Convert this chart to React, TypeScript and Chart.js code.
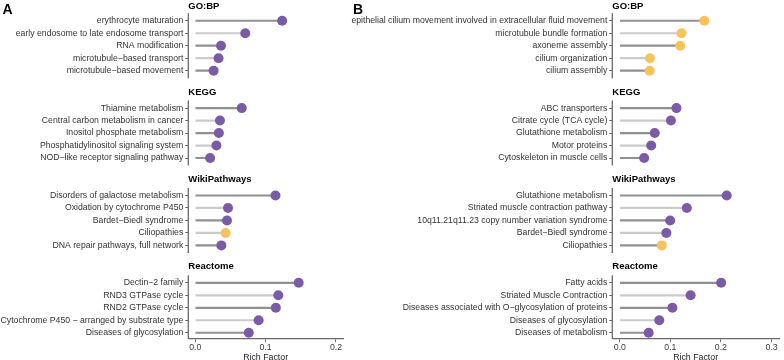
import { useEffect, useRef } from "react";
import { Chart, registerables } from "chart.js";

Chart.register(...registerables);

// ---- Panel A: enrichment terms and rich factors ----
const facetTitles = ["GO:BP", "KEGG", "WikiPathways", "Reactome"];

const goTermsA = [
  "erythrocyte maturation",
  "early endosome to late endosome transport",
  "RNA modification",
  "microtubule−based transport",
  "microtubule−based movement",
];
const goRichA = [0.1235, 0.071, 0.0365, 0.033, 0.026];

const keggTermsA = [
  "Thiamine metabolism",
  "Central carbon metabolism in cancer",
  "Inositol phosphate metabolism",
  "Phosphatidylinositol signaling system",
  "NOD−like receptor signaling pathway",
];
const keggRichA = [0.066, 0.035, 0.0335, 0.03, 0.021];

const wikiTermsA = [
  "Disorders of galactose metabolism",
  "Oxidation by cytochrome P450",
  "Bardet−Biedl syndrome",
  "Ciliopathies",
  "DNA repair pathways, full network",
];
const wikiRichA = [0.114, 0.0465, 0.045, 0.043, 0.037];

const reactomeTermsA = [
  "Dectin−2 family",
  "RND3 GTPase cycle",
  "RND2 GTPase cycle",
  "Cytochrome P450 − arranged by substrate type",
  "Diseases of glycosylation",
];
const reactomeRichA = [0.147, 0.118, 0.1145, 0.09, 0.076];

const ciliaTermsA = ["Ciliopathies"];
const xTicksA = [0, 0.1, 0.2];

// ---- Panel B ----
const goTermsB = [
  "epithelial cilium movement involved in extracellular fluid movement",
  "microtubule bundle formation",
  "axoneme assembly",
  "cilium organization",
  "cilium assembly",
];
const goRichB = [0.167, 0.122, 0.1195, 0.0595, 0.059];

const keggTermsB = [
  "ABC transporters",
  "Citrate cycle (TCA cycle)",
  "Glutathione metabolism",
  "Motor proteins",
  "Cytoskeleton in muscle cells",
];
const keggRichB = [0.112, 0.101, 0.069, 0.062, 0.048];

const wikiTermsB = [
  "Glutathione metabolism",
  "Striated muscle contraction pathway",
  "10q11.21q11.23 copy number variation syndrome",
  "Bardet−Biedl syndrome",
  "Ciliopathies",
];
const wikiRichB = [0.2115, 0.1325, 0.0995, 0.092, 0.083];

const reactomeTermsB = [
  "Fatty acids",
  "Striated Muscle Contraction",
  "Diseases associated with O−glycosylation of proteins",
  "Diseases of glycosylation",
  "Diseases of metabolism",
];
const reactomeRichB = [0.2005, 0.14, 0.104, 0.078, 0.057];

const ciliaTermsB = [
  "epithelial cilium movement involved in extracellular fluid movement",
  "microtubule bundle formation",
  "axoneme assembly",
  "cilium organization",
  "cilium assembly",
  "Ciliopathies",
];
const xTicksB = [0, 0.1, 0.2, 0.3];

// ---- styling ----
const FONT = '"Liberation Sans", Arial, Helvetica, sans-serif';
const PURPLE = "#7c5ba6";
const GOLD = "#f6c45b";
const STEM_DARK = "#909090";
const STEM_LIGHT = "#cbcbcb";
const AXIS = "#6a6a6a";
const GAP_ROWS = 2;

type Facet = { title: string; terms: string[]; values: number[] };

function layoutRows(facets: Facet[]) {
  const labels: string[] = [];
  const values: (number | null)[] = [];
  const rank: number[] = [];
  const starts: number[] = [];
  facets.forEach((f, fi) => {
    if (fi > 0) {
      for (let g = 0; g < GAP_ROWS; g++) {
        labels.push("");
        values.push(null);
        rank.push(-1);
      }
    }
    starts.push(labels.length);
    f.terms.forEach((t, i) => {
      labels.push(t);
      values.push(f.values[i]);
      rank.push(i);
    });
  });
  return { labels, values, rank, starts };
}

type PanelProps = {
  letter: string;
  letterX: number;
  facets: Facet[];
  highlight: string[];
  xMin: number;
  xMax: number;
  xTicks: number[];
  axisLeft: number;
  padRight: number;
  offsetX: number;
  width: number;
};

function Panel({
  letter,
  letterX,
  facets,
  highlight,
  xMin,
  xMax,
  xTicks,
  axisLeft,
  padRight,
  offsetX,
  width,
}: PanelProps) {
  const ref = useRef<HTMLCanvasElement | null>(null);

  useEffect(() => {
    if (!ref.current) return;
    const { labels, values, rank, starts } = layoutRows(facets);
    const pointColors = labels.map((l) => (highlight.includes(l) ? GOLD : PURPLE));
    const stemColors = rank.map((r) => (r % 2 === 0 ? STEM_DARK : STEM_LIGHT));

    // facet strips (bold titles) and the per-facet left axis lines
    const decor = {
      id: "facetDecor",
      afterDraw(chart: any) {
        const { ctx, chartArea, scales } = chart;
        const y = scales.y;
        const band = y.getPixelForValue(1) - y.getPixelForValue(0);
        const half = band * 0.6;
        ctx.save();
        ctx.fillStyle = "#000";
        ctx.font = `bold 14px ${FONT}`;
        ctx.textAlign = "left";
        ctx.textBaseline = "alphabetic";
        ctx.fillText(letter, letterX, 14);
        starts.forEach((s, i) => {
          const n = facets[i].terms.length;
          const top = y.getPixelForValue(s) - half;
          const bottom =
            i === starts.length - 1 ? chartArea.bottom : y.getPixelForValue(s + n - 1) + half;
          ctx.strokeStyle = AXIS;
          ctx.lineWidth = 1.3;
          ctx.beginPath();
          ctx.moveTo(chartArea.left, top);
          ctx.lineTo(chartArea.left, bottom);
          ctx.stroke();
          ctx.fillStyle = "#000";
          ctx.font = `bold 9.5px ${FONT}`;
          ctx.textBaseline = "middle";
          ctx.fillText(facets[i].title, chartArea.left, Math.max(top - 8.5, 6.5));
        });
        ctx.restore();
      },
    };

    const chart = new Chart(ref.current, {
      type: "bar",
      data: {
        labels,
        datasets: [
          {
            type: "line",
            indexAxis: "y",
            data: values,
            showLine: false,
            pointRadius: 5,
            pointHoverRadius: 5,
            pointBorderWidth: 0,
            pointBackgroundColor: pointColors,
            pointBorderColor: pointColors,
            order: 0,
          } as any,
          {
            type: "bar",
            indexAxis: "y",
            data: values,
            backgroundColor: stemColors,
            borderWidth: 0,
            barThickness: 1.5,
            order: 1,
          } as any,
        ],
      },
      options: {
        indexAxis: "y",
        animation: false,
        responsive: false,
        maintainAspectRatio: false,
        events: [],
        layout: { padding: { top: 14.5, right: padRight, left: 0, bottom: 0 } },
        plugins: { legend: { display: false }, tooltip: { enabled: false }, title: { display: false } },
        scales: {
          x: {
            type: "linear",
            position: "bottom",
            min: xMin,
            max: xMax,
            afterFit: (s: any) => {
              s.height = 21;
            },
            afterBuildTicks: (s: any) => {
              s.ticks = xTicks.map((v) => ({ value: v }));
            },
            ticks: {
              font: { family: FONT, size: 8.7 },
              color: "#3a3a3a",
              padding: 0,
              callback: (v: any) => Number(v).toFixed(1),
            },
            grid: { drawOnChartArea: false, tickLength: 3, color: AXIS, lineWidth: 1 },
            border: { display: true, color: AXIS, width: 1.3 },
            title: {
              display: true,
              text: "Rich Factor",
              font: { family: FONT, size: 8.8, lineHeight: 1 },
              color: "#222",
              padding: { top: 0, bottom: -1.5 },
            },
          },
          y: {
            type: "category",
            position: "left",
            labels,
            offset: true,
            afterFit: (s: any) => {
              s.width = axisLeft;
            },
            ticks: {
              autoSkip: false,
              font: { family: FONT, size: 8.7 },
              color: "#333",
              padding: 2,
            },
            grid: {
              offset: false,
              drawOnChartArea: false,
              tickLength: 3,
              lineWidth: 1,
              color: (c: any) => (labels[c.index] ? AXIS : "rgba(0,0,0,0)"),
            },
            border: { display: false },
          },
        },
      } as any,
      plugins: [decor],
    });
    return () => chart.destroy();
  }, []);

  return (
    <canvas
      ref={ref}
      width={width}
      height={360}
      style={{ position: "absolute", left: offsetX, top: 0, width, height: 360 }}
    />
  );
}

const facetsA: Facet[] = [
  { title: facetTitles[0], terms: goTermsA, values: goRichA },
  { title: facetTitles[1], terms: keggTermsA, values: keggRichA },
  { title: facetTitles[2], terms: wikiTermsA, values: wikiRichA },
  { title: facetTitles[3], terms: reactomeTermsA, values: reactomeRichA },
];

const facetsB: Facet[] = [
  { title: facetTitles[0], terms: goTermsB, values: goRichB },
  { title: facetTitles[1], terms: keggTermsB, values: keggRichB },
  { title: facetTitles[2], terms: wikiTermsB, values: wikiRichB },
  { title: facetTitles[3], terms: reactomeTermsB, values: reactomeRichB },
];

export default function App() {
  return (
    <div
      style={{
        position: "fixed",
        left: 0,
        top: 0,
        width: 784,
        height: 360,
        background: "#fff",
        overflow: "hidden",
      }}
    >
      <Panel
        letter="A"
        letterX={2.5}
        facets={facetsA}
        highlight={ciliaTermsA}
        xMin={-0.01}
        xMax={0.21}
        xTicks={xTicksA}
        axisLeft={188.3}
        padRight={49}
        offsetX={0}
        width={392}
      />
      <Panel
        letter="B"
        letterX={53}
        facets={facetsB}
        highlight={ciliaTermsB}
        xMin={-0.015}
        xMax={0.315}
        xTicks={xTicksB}
        axisLeft={312.3}
        padRight={0.4}
        offsetX={300}
        width={484}
      />
    </div>
  );
}
